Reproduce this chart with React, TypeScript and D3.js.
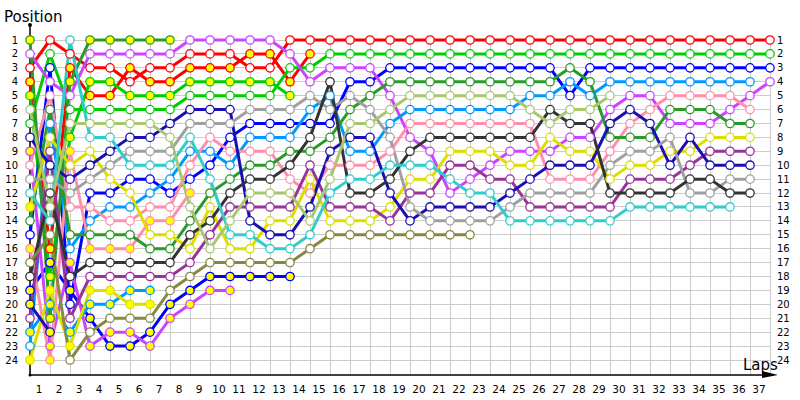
import React from "react";
import * as d3 from "d3";

// ---------- data ----------
const lapLabels = d3.range(1, 38).map(String);
const positionLabels = d3.range(1, 25);

const driverNames = [
  "RedA", "RedB", "GreenA", "GreenB", "BlueA", "BlueB", "MagentaA", "MagentaB",
  "LtBlueA", "LtBlueB", "PinkA", "PinkB", "DkGreenA", "DkGreenB", "YellowA", "YellowB",
  "Purple", "DkBlueA", "DkBlueB", "Gray", "Black", "Cyan", "LtOlive", "Olive",
];
const driverColors = [
  "#ff0000", "#ff0000", "#00cc00", "#00cc00", "#0000ff", "#0000ff", "#cc44ff", "#cc44ff",
  "#0099ff", "#0099ff", "#ff8fab", "#ff8fab", "#2a9a2a", "#2a9a2a", "#dddd00", "#dddd00",
  "#993399", "#1a0fb0", "#1a0fb0", "#a0a0a0", "#333333", "#33cccc", "#a8c870", "#888844",
];
const driverYellowMarkers = [
  false, true, false, true, false, true, false, true,
  false, true, false, true, false, true, false, true,
  false, false, true, false, false, false, false, false,
];

// positions per lap (index 0 = start grid)
const posRedA = [3,1,2,3,3,4,3,3,2,2,2,3,3,1,1,1,1,1,1,1,1,1,1,1,1,1,1,1,1,1,1,1,1,1,1,1,1,1];
const posRedB = [4,16,3,5,5,3,4,4,3,3,3,2,2,4,2];
const posGreenA = [7,2,6,6,6,6,6,6,5,5,5,5,5,3,3,2,2,2,2,2,2,2,2,2,2,2,2,2,2,2,2,2,2,2,2,2,2,2];
const posGreenB = [5,18,8,4,4,5,5,5,4,4,4,4,4,5];
const posBlueA = [15,3,20,12,12,11,11,12,11,10,8,7,7,7,7,7,4,4,3,3,3,3,3,3,3,3,3,5,3,3,3,3,3,3,3,3,3,3];
const posBlueB = [19,17,19,21,23,23,22,20,19,18,18,18,18,18];
const posMagentaA = [2,4,5,2,2,2,2,2,1,1,1,1,1,2,4,3,3,3,5,8,9,12,11,10,9,9,9,8,8,6,5,5,7,7,7,6,5,4];
const posMagentaB = [9,23,17,23,22,22,23,21,20,19,19];
const posLtBlueA = [23,7,16,14,13,13,12,11,9,9,10,8,8,8,6,5,9,9,7,6,6,6,6,6,6,5,5,4,5,4,4,4,4,4,4,4,4];
const posLtBlueB = [22,20,22,20,20,19,19];
const posPinkA = [10,5,13,13,14,14,13,13,10,8,9,9,9,11,12,10,10,10,9,7,7,7,7,7,7,7,11,11,11,9,7,6,5,5,5,5,6];
const posPinkB = [16,24,9,16,16,16,14,14,12];
const posDkGreenA = [14,6,15,15,15,15,16,16,14,12,11,10,10,9,9,8,6,5,4,4,4,4,4,4,4,4,4,3,4,8,8,8,6,6,6,7,7];
const posDkGreenB = [1,21,4,1,1,1,1,1];
const posYellowA = [13,8,10,9,11,12,15,15,16,13,16,16,14,14,11,14,14,14,13,11,11,9,9,9,10,10,8,9,9,11,10,10,9,9,8,8,8];
const posYellowB = [24,19,23,19,19,20,20];
const posPurple = [21,9,21,18,18,18,18,18,17,15,13,13,13,13,10,13,13,13,14,12,12,10,10,11,11,13,13,13,13,13,11,11,11,10,9,9,9];
const posDkBlueA = [8,10,11,10,9,8,8,7,6,6,6,14,15,15,13,9,8,8,12,14,13,13,13,13,12,11,10,10,10,7,6,7,10,8,10,10,10];
const posDkBlueB = [20,22];
const posGray = [11,11,12,11,10,9,9,9,7,7,7,6,6,6,5,6,5,6,8,13,14,14,14,14,13,12,12,12,12,10,9,9,8,12,12,11,11];
const posBlack = [18,12,18,17,17,17,17,17,15,14,12,11,11,10,8,4,12,12,11,9,8,8,8,8,8,8,6,7,7,12,12,12,12,11,11,12,12];
const posCyan = [12,14,1,8,8,10,10,10,8,11,15,15,16,16,15,12,11,11,10,10,10,11,12,12,14,14,14,14,14,14,13,13,13,13,13,13];
const posLtOlive = [6,13,7,7,7,7,7,8,13,16,14,12,12,12,14,11,7,7,6,5,5,5,5,5,5,6,7,6,6,5];
const posOlive = [17,15,24,22,21,21,21,19,18,17,17,17,17,17,16,15,15,15,15,15,15,15,15];

const driverPositions = [
  posRedA, posRedB, posGreenA, posGreenB, posBlueA, posBlueB, posMagentaA, posMagentaB,
  posLtBlueA, posLtBlueB, posPinkA, posPinkB, posDkGreenA, posDkGreenB, posYellowA, posYellowB,
  posPurple, posDkBlueA, posDkBlueB, posGray, posBlack, posCyan, posLtOlive, posOlive,
];

// ---------- layout ----------
const W = 800;
const H = 400;
const x = d3.scaleLinear().domain([0, 37]).range([30, 770]);
const y = d3.scaleLinear().domain([1, 24]).range([40, 360]);
const axisY = 375;
const font = "'DejaVu Sans', Verdana, sans-serif";

export default function App() {
  const line = d3
    .line<number>()
    .x((_, i) => x(i))
    .y((d) => y(d));

  const series = driverNames.map((name, i) => ({
    name,
    color: driverColors[i],
    yellow: driverYellowMarkers[i],
    values: driverPositions[i],
  }));

  return (
    <svg
      width={W}
      height={H}
      style={{ position: "absolute", left: 0, top: 0, background: "#fff" }}
    >
      {/* grid */}
      <g stroke="#cccccc" strokeWidth={1} shapeRendering="crispEdges">
        {d3.range(0, 38).map((l) => (
          <line key={"v" + l} x1={x(l)} x2={x(l)} y1={y(1)} y2={axisY} />
        ))}
        {positionLabels.map((p) => (
          <line key={"h" + p} x1={x(0)} x2={x(37)} y1={y(p)} y2={y(p)} />
        ))}
      </g>

      {/* axes */}
      <line x1={x(0)} x2={x(0)} y1={25} y2={axisY} stroke="#000" strokeWidth={1.5} />
      <circle cx={x(0)} cy={25} r={2} fill="#000" />
      <line x1={x(0)} x2={772} y1={axisY} y2={axisY} stroke="#000" strokeWidth={1.5} />
      <circle cx={x(0)} cy={axisY} r={1.5} fill="#000" />
      <path d={`M762,371 L778,375 L762,378 Z`} fill="#000" />

      {/* lines */}
      <g fill="none" strokeWidth={3} strokeLinejoin="round">
        {series.map((s) => (
          <path key={s.name} d={line(s.values) || ""} stroke={s.color} />
        ))}
      </g>

      {/* markers */}
      <g strokeWidth={1.3}>
        {series.map((s) =>
          s.values.map((v, i) => (
            <circle
              key={s.name + i}
              cx={x(i)}
              cy={y(v)}
              r={4.2}
              fill={s.yellow || (s.name === "YellowA" && i === 0) ? "#ffff00" : "#ffffff"}
              stroke={s.color}
            />
          ))
        )}
      </g>

      {/* left labels */}
      <g fontFamily={font} fontSize={10} fill="#000" textAnchor="end">
        {positionLabels.map((p) => (
          <text key={"l" + p} x={18} y={y(p)} dy="0.35em">
            {p}
          </text>
        ))}
      </g>
      {/* right labels */}
      <g fontFamily={font} fontSize={10} fill="#000" textAnchor="start">
        {positionLabels.map((p) => (
          <text key={"r" + p} x={777} y={y(p)} dy="0.35em">
            {p}
          </text>
        ))}
      </g>
      {/* lap labels */}
      <g fontFamily={font} fontSize={10.5} fill="#000" textAnchor="middle">
        {lapLabels.map((t, i) => (
          <text key={"x" + t} x={x(i + 1) - 11} y={393}>
            {t}
          </text>
        ))}
      </g>
      <text x={4} y={22} fontFamily={font} fontSize={15} fill="#000">
        Position
      </text>
      <text x={743} y={370} fontFamily={font} fontSize={15} fill="#000">
        Laps
      </text>
    </svg>
  );
}
